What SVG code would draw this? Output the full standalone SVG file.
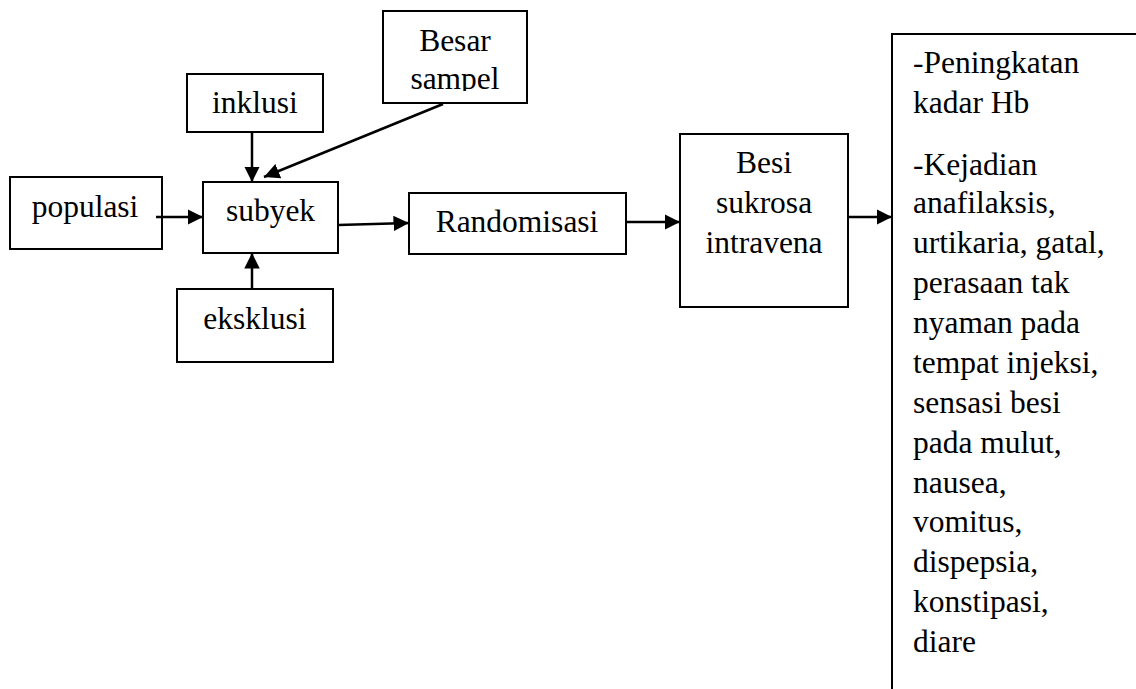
<svg xmlns="http://www.w3.org/2000/svg" width="1136" height="689" viewBox="0 0 1136 689">
<style>
.box{fill:#fff;stroke:#000;stroke-width:2}
.t{font-family:'Liberation Serif','Times New Roman',Times,'DejaVu Serif',serif;font-size:31.5px;fill:#000}
.c{text-anchor:middle}
.ln{stroke:#000;stroke-width:2.5;fill:none;marker-end:url(#ah)}
</style>
<defs>
<marker id="ah" viewBox="0 0 10 10" refX="10" refY="5" markerWidth="6.2" markerHeight="6.2" markerUnits="strokeWidth" orient="auto">
<path d="M0,0 L10,5 L0,10 z" fill="#000"/>
</marker>
<clipPath id="bsclip"><rect x="383" y="11" width="144" height="80"/></clipPath>
</defs>
<g id="besar-sampel">
<rect class="box" x="383" y="11" width="144" height="92"/>
<g clip-path="url(#bsclip)">
<text class="t c" x="455" y="51">Besar</text>
<text class="t c" x="455" y="89">sampel</text>
</g>
</g>
<g id="inklusi">
<rect class="box" x="187" y="74" width="136" height="58"/>
<text class="t c" x="255" y="113">inklusi</text>
</g>
<g id="populasi">
<rect class="box" x="10" y="177" width="152" height="72"/>
<text class="t c" x="85" y="217">populasi</text>
</g>
<g id="subyek">
<rect class="box" x="203" y="182" width="135" height="71"/>
<text class="t c" x="270.5" y="221">subyek</text>
</g>
<g id="eksklusi">
<rect class="box" x="177" y="289" width="156" height="73"/>
<text class="t c" x="255" y="329">eksklusi</text>
</g>
<g id="randomisasi">
<rect class="box" x="409" y="193" width="217" height="61"/>
<text class="t c" x="517" y="232">Randomisasi</text>
</g>
<g id="besi">
<rect class="box" x="680" y="134" width="168" height="173"/>
<text class="t c" x="764" y="173">Besi</text>
<text class="t c" x="764" y="213">sukrosa</text>
<text class="t c" x="764" y="253">intravena</text>
</g>
<g id="outcome">
<path d="M892,689 V34 H1138" fill="none" stroke="#000" stroke-width="2"/>
<text class="t" x="913" y="73">-Peningkatan</text>
<text class="t" x="913" y="113">kadar Hb</text>
<text class="t" x="913" y="175">-Kejadian</text>
<text class="t" x="913" y="213">anafilaksis,</text>
<text class="t" x="913" y="253">urtikaria, gatal,</text>
<text class="t" x="913" y="293">perasaan tak</text>
<text class="t" x="913" y="333">nyaman pada</text>
<text class="t" x="913" y="373">tempat injeksi,</text>
<text class="t" x="913" y="413">sensasi besi</text>
<text class="t" x="913" y="453">pada mulut,</text>
<text class="t" x="913" y="493">nausea,</text>
<text class="t" x="913" y="532">vomitus,</text>
<text class="t" x="913" y="572">dispepsia,</text>
<text class="t" x="913" y="612">konstipasi,</text>
<text class="t" x="913" y="652">diare</text>
</g>
<g id="connectors">
<line class="ln" x1="156" y1="217" x2="203" y2="217"/>
<line class="ln" x1="252" y1="132" x2="252" y2="182"/>
<line class="ln" x1="252" y1="289" x2="252" y2="253"/>
<line class="ln" x1="443" y1="104" x2="264" y2="177"/>
<line class="ln" x1="338" y1="225" x2="409" y2="223"/>
<line class="ln" x1="626" y1="222" x2="680" y2="222"/>
<line class="ln" x1="848" y1="217" x2="892" y2="217"/>
</g>
</svg>
